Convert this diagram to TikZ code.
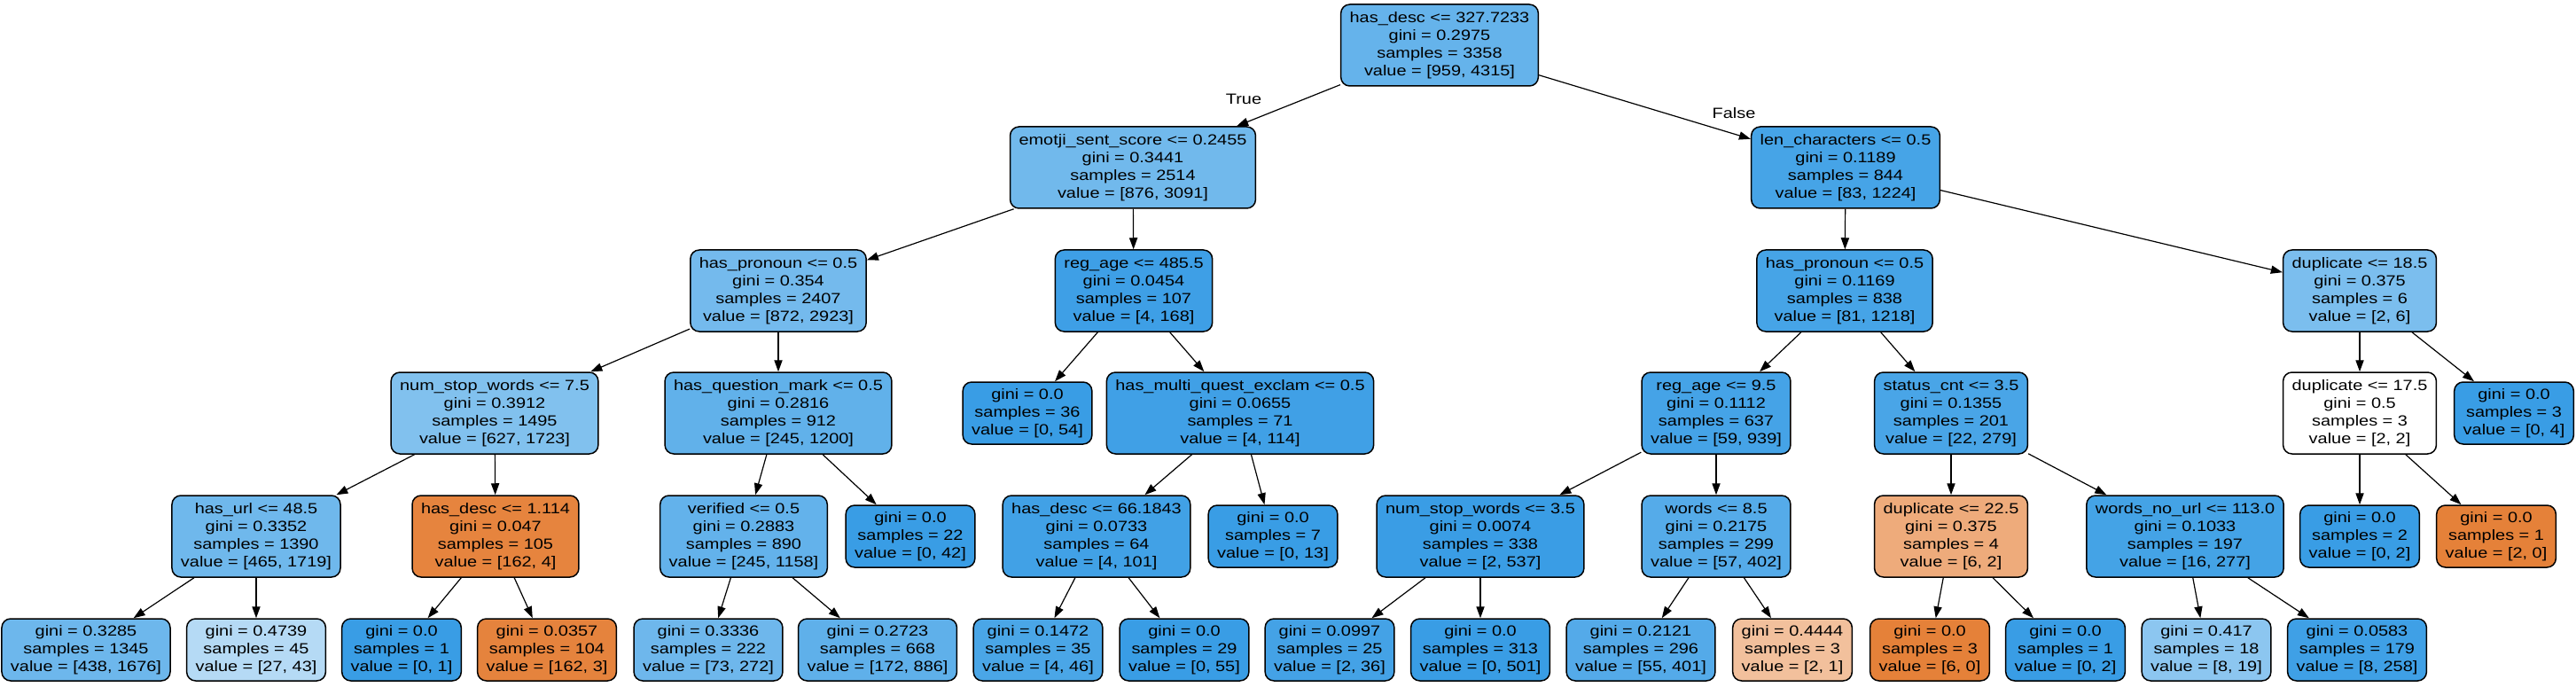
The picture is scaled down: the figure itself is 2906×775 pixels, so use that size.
\documentclass[tikz,border=0pt]{standalone}
\usepackage{fontspec}
\setmainfont{Liberation Sans}[FakeStretch=1.2]
\usepackage{xcolor}
\usepackage{tikz}
\usetikzlibrary{arrows.meta}
\definecolor{dtblue}{RGB}{57,157,229}
\definecolor{dtorange}{RGB}{229,129,57}
\definecolor{froot}{RGB}{101,179,235}
\definecolor{femo}{RGB}{113,185,236}
\definecolor{flenc}{RGB}{70,164,231}
\definecolor{fprona}{RGB}{116,186,237}
\definecolor{fagea}{RGB}{62,159,230}
\definecolor{fdupa}{RGB}{123,190,238}
\definecolor{fstopa}{RGB}{129,193,238}
\definecolor{fqmark}{RGB}{97,177,234}
\definecolor{fmulti}{RGB}{64,160,230}
\definecolor{fageb}{RGB}{69,163,231}
\definecolor{fstat}{RGB}{73,165,231}
\definecolor{furl}{RGB}{111,184,236}
\definecolor{fdesca}{RGB}{230,132,62}
\definecolor{fverif}{RGB}{99,178,235}
\definecolor{fdescb}{RGB}{65,161,230}
\definecolor{fstopb}{RGB}{58,157,229}
\definecolor{fwords}{RGB}{85,171,233}
\definecolor{fdupc}{RGB}{238,171,123}
\definecolor{fnourl}{RGB}{68,163,230}
\definecolor{fl1345}{RGB}{109,183,236}
\definecolor{fl45}{RGB}{181,218,245}
\definecolor{fl104}{RGB}{229,131,61}
\definecolor{fl222}{RGB}{110,183,236}
\definecolor{fl668}{RGB}{95,176,234}
\definecolor{fl35}{RGB}{74,166,231}
\definecolor{fl25}{RGB}{68,162,230}
\definecolor{fl296}{RGB}{84,170,233}
\definecolor{fl3a}{RGB}{242,192,156}
\definecolor{fl18}{RGB}{140,198,240}
\definecolor{fl179}{RGB}{63,160,230}
\tikzset{
  dtbox/.style={
    draw=black, line width=0.75pt, rounded corners=5pt,
    align=center, inner xsep=5pt, inner ysep=1pt,
    font=\fontsize{8.3}{10}\selectfont
  },
  split/.style={dtbox, minimum height=46pt},
  leaf/.style={dtbox, minimum height=35pt},
  arr/.style={-{Triangle[length=6.5pt,width=4.6pt]}, draw=black, line width=0.6pt},
  lbl/.style={font=\fontsize{8.3}{10}\selectfont}
}

\begin{document}
\begin{tikzpicture}[x=0.5pt,y=-0.5pt]
  \useasboundingbox (0,0) rectangle (2906,775);
  % depth 0 and 1
  \node[split, fill=froot] (root) at (1624,51) {has\_desc <= 327.7233\\gini = 0.2975\\samples = 3358\\value = [959, 4315]};
  \node[split, fill=femo] (emo) at (1278,189) {emotji\_sent\_score <= 0.2455\\gini = 0.3441\\samples = 2514\\value = [876, 3091]};
  \node[split, fill=flenc] (lenc) at (2082,189) {len\_characters <= 0.5\\gini = 0.1189\\samples = 844\\value = [83, 1224]};
  % depth 2
  \node[split, fill=fprona] (prona) at (878,328) {has\_pronoun <= 0.5\\gini = 0.354\\samples = 2407\\value = [872, 2923]};
  \node[split, fill=fagea] (agea) at (1279,328) {reg\_age <= 485.5\\gini = 0.0454\\samples = 107\\value = [4, 168]};
  \node[split, fill=flenc] (pronb) at (2081,328) {has\_pronoun <= 0.5\\gini = 0.1169\\samples = 838\\value = [81, 1218]};
  \node[split, fill=fdupa] (dupa) at (2662,328) {duplicate <= 18.5\\gini = 0.375\\samples = 6\\value = [2, 6]};
  % depth 3
  \node[split, fill=fstopa] (stopa) at (558,466) {num\_stop\_words <= 7.5\\gini = 0.3912\\samples = 1495\\value = [627, 1723]};
  \node[split, fill=fqmark] (qmark) at (878,466) {has\_question\_mark <= 0.5\\gini = 0.2816\\samples = 912\\value = [245, 1200]};
  \node[leaf, fill=dtblue] (lf36) at (1159,466) {gini = 0.0\\samples = 36\\value = [0, 54]};
  \node[split, fill=fmulti] (multi) at (1399,466) {has\_multi\_quest\_exclam <= 0.5\\gini = 0.0655\\samples = 71\\value = [4, 114]};
  \node[split, fill=fageb] (ageb) at (1936,466) {reg\_age <= 9.5\\gini = 0.1112\\samples = 637\\value = [59, 939]};
  \node[split, fill=fstat] (stat) at (2201,466) {status\_cnt <= 3.5\\gini = 0.1355\\samples = 201\\value = [22, 279]};
  \node[split, fill=white] (dupb) at (2662,466) {duplicate <= 17.5\\gini = 0.5\\samples = 3\\value = [2, 2]};
  \node[leaf, fill=dtblue] (lf3) at (2836,466) {gini = 0.0\\samples = 3\\value = [0, 4]};
  % depth 4
  \node[split, fill=furl] (url) at (289,605) {has\_url <= 48.5\\gini = 0.3352\\samples = 1390\\value = [465, 1719]};
  \node[split, fill=fdesca] (desca) at (559,605) {has\_desc <= 1.114\\gini = 0.047\\samples = 105\\value = [162, 4]};
  \node[split, fill=fverif] (verif) at (839,605) {verified <= 0.5\\gini = 0.2883\\samples = 890\\value = [245, 1158]};
  \node[leaf, fill=dtblue] (lf22) at (1027,605) {gini = 0.0\\samples = 22\\value = [0, 42]};
  \node[split, fill=fdescb] (descb) at (1237,605) {has\_desc <= 66.1843\\gini = 0.0733\\samples = 64\\value = [4, 101]};
  \node[leaf, fill=dtblue] (lf7) at (1436,605) {gini = 0.0\\samples = 7\\value = [0, 13]};
  \node[split, fill=fstopb] (stopb) at (1670,605) {num\_stop\_words <= 3.5\\gini = 0.0074\\samples = 338\\value = [2, 537]};
  \node[split, fill=fwords] (words) at (1936,605) {words <= 8.5\\gini = 0.2175\\samples = 299\\value = [57, 402]};
  \node[split, fill=fdupc] (dupc) at (2201,605) {duplicate <= 22.5\\gini = 0.375\\samples = 4\\value = [6, 2]};
  \node[split, fill=fnourl] (nourl) at (2465,605) {words\_no\_url <= 113.0\\gini = 0.1033\\samples = 197\\value = [16, 277]};
  \node[leaf, fill=dtblue] (lf2) at (2662,605) {gini = 0.0\\samples = 2\\value = [0, 2]};
  \node[leaf, fill=dtorange] (lf1) at (2816,605) {gini = 0.0\\samples = 1\\value = [2, 0]};
  % depth 5
  \node[leaf, fill=fl1345] (l1345) at (97,733) {gini = 0.3285\\samples = 1345\\value = [438, 1676]};
  \node[leaf, fill=fl45] (l45) at (289,733) {gini = 0.4739\\samples = 45\\value = [27, 43]};
  \node[leaf, fill=dtblue] (l1a) at (453,733) {gini = 0.0\\samples = 1\\value = [0, 1]};
  \node[leaf, fill=fl104] (l104) at (617,733) {gini = 0.0357\\samples = 104\\value = [162, 3]};
  \node[leaf, fill=fl222] (l222) at (799,733) {gini = 0.3336\\samples = 222\\value = [73, 272]};
  \node[leaf, fill=fl668] (l668) at (990,733) {gini = 0.2723\\samples = 668\\value = [172, 886]};
  \node[leaf, fill=fl35] (l35) at (1171,733) {gini = 0.1472\\samples = 35\\value = [4, 46]};
  \node[leaf, fill=dtblue] (l29) at (1336,733) {gini = 0.0\\samples = 29\\value = [0, 55]};
  \node[leaf, fill=fl25] (l25) at (1500,733) {gini = 0.0997\\samples = 25\\value = [2, 36]};
  \node[leaf, fill=dtblue] (l313) at (1670,733) {gini = 0.0\\samples = 313\\value = [0, 501]};
  \node[leaf, fill=fl296] (l296) at (1851,733) {gini = 0.2121\\samples = 296\\value = [55, 401]};
  \node[leaf, fill=fl3a] (l3a) at (2022,733) {gini = 0.4444\\samples = 3\\value = [2, 1]};
  \node[leaf, fill=dtorange] (l3b) at (2177,733) {gini = 0.0\\samples = 3\\value = [6, 0]};
  \node[leaf, fill=dtblue] (l1b) at (2330,733) {gini = 0.0\\samples = 1\\value = [0, 2]};
  \node[leaf, fill=fl18] (l18) at (2489,733) {gini = 0.417\\samples = 18\\value = [8, 19]};
  \node[leaf, fill=fl179] (l179) at (2659,733) {gini = 0.0583\\samples = 179\\value = [8, 258]};
  % edges
  \foreach \a/\b in {root/emo, root/lenc, emo/prona, emo/agea, lenc/pronb, lenc/dupa,
      prona/stopa, prona/qmark, agea/lf36, agea/multi, pronb/ageb, pronb/stat,
      dupa/dupb, dupa/lf3, stopa/url, stopa/desca, qmark/verif, qmark/lf22,
      multi/descb, multi/lf7, ageb/stopb, ageb/words, stat/dupc, stat/nourl,
      dupb/lf2, dupb/lf1, url/l1345, url/l45, desca/l1a, desca/l104,
      verif/l222, verif/l668, descb/l35, descb/l29, stopb/l25, stopb/l313,
      words/l296, words/l3a, dupc/l3b, dupc/l1b, nourl/l18, nourl/l179}
    \draw[arr] (\a) -- (\b);
  \node[lbl] (ltrue) at (1403,112) {True};
  \node[lbl] (lfalse) at (1956,128) {False};
\end{tikzpicture}
\end{document}
